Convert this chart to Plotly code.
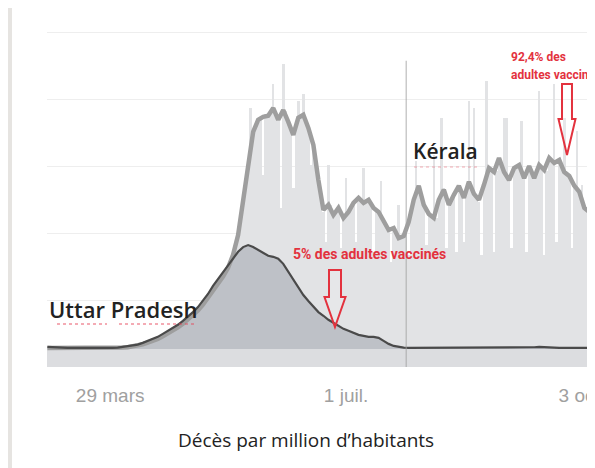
import pandas as pd
import plotly.graph_objects as go

# Décès quotidiens par million d'habitants, Kérala (barres), du 4 mars au 6 oct. 2021
KERALA_START = "2021-03-04"
KERALA_DAILY = [
    0.03, 0.03, 0.03, 0.03, 0.03, 0.02, 0.02, 0.02, 0.02, 0.02, 0.02, 0.01, 0.01, 0.01,
    0.01, 0.01, 0.01, 0.01, 0.01, 0.01, 0.01, 0.01, 0.01, 0.01, 0.01, 0.02, 0.02, 0.02,
    0.03, 0.03, 0.04, 0.04, 0.05, 0.06, 0.07, 0.08, 0.10, 0.12, 0.14, 0.16, 0.19, 0.21,
    0.24, 0.27, 0.30, 0.34, 0.38, 0.42, 0.46, 0.50, 0.55, 0.60, 0.64, 0.70, 0.75, 0.81,
    0.87, 0.93, 1.00, 1.07, 1.15, 1.23, 1.32, 1.42, 1.52, 1.63, 1.75, 1.85, 1.96, 2.06,
    2.1, 2.3, 2.4, 2.6, 2.8, 3.1, 3.4, 3.9, 4.5, 5.0, 5.7, 7.2, 6.5, 6.6,
    6.8, 6.9, 5.2, 7.0, 7.0, 7.1, 7.9, 7.0, 6.8, 4.2, 8.5, 7.1, 6.8, 6.6,
    4.8, 6.6, 7.4, 6.9, 7.6, 6.9, 6.6, 5.5, 6.1, 5.6, 5.0, 4.5, 4.1, 3.2,
    5.5, 4.3, 4.0, 4.1, 4.2, 3.0, 3.9, 5.1, 4.1, 4.2, 4.4, 3.2, 4.5, 4.4,
    5.4, 4.4, 4.5, 4.3, 2.9, 4.2, 4.1, 5.0, 3.8, 3.6, 3.5, 2.6, 3.6, 3.4,
    4.3, 3.3, 3.4, 3.6, 2.8, 4.1, 4.5, 5.6, 4.9, 4.6, 4.3, 3.1, 4.0, 3.9,
    5.8, 3.9, 4.5, 6.9, 4.8, 3.0, 4.3, 4.5, 4.6, 2.9, 4.9, 4.7, 3.2, 4.8,
    7.4, 4.8, 7.2, 4.5, 4.4, 2.8, 4.9, 8.0, 5.4, 5.3, 2.9, 5.3, 5.7, 5.4,
    6.9, 6.9, 5.0, 3.0, 5.4, 5.5, 5.5, 6.8, 5.1, 2.9, 5.5, 5.3, 5.1, 5.3,
    7.7, 5.4, 2.8, 5.3, 5.7, 5.6, 7.9, 3.2, 5.6, 5.4, 6.9, 5.2, 5.2, 3.0,
    4.9, 6.5, 4.7, 4.9, 4.2, 4.1, 4.0,
]

# Moyennes sur 7 jours, lues tous les 2 jours à partir du 4 mars 2021
AVG_START = "2021-03-04"
KERALA_AVG = [
    0.03, 0.03, 0.03, 0.02, 0.02, 0.02, 0.01, 0.01, 0.01, 0.01,
    0.01, 0.01, 0.01, 0.02, 0.03, 0.04, 0.05, 0.07, 0.10, 0.14,
    0.19, 0.24, 0.30, 0.38, 0.46, 0.55, 0.64, 0.75, 0.87, 1.00,
    1.15, 1.32, 1.52, 1.75, 1.96, 2.16, 2.42, 2.81, 3.40, 4.45,
    5.64, 6.48, 6.84, 6.93, 6.96, 7.19, 6.84, 7.13, 6.78, 6.39,
    6.90, 6.99, 6.60, 6.09, 5.04, 4.15, 4.30, 4.00, 4.21, 3.91,
    4.09, 4.36, 4.51, 4.36, 4.45, 4.21, 4.09, 3.79, 3.55, 3.61,
    3.31, 3.37, 3.79, 4.45, 4.87, 4.30, 4.03, 3.91, 4.45, 4.75,
    4.30, 4.60, 4.87, 4.51, 4.99, 4.63, 4.45, 4.90, 5.40, 5.28,
    5.70, 5.28, 5.04, 5.40, 5.49, 5.10, 5.46, 5.10, 5.49, 5.34,
    5.70, 5.55, 5.64, 5.28, 5.16, 4.87, 4.69, 4.21, 4.09,
]
UP_AVG = [
    0.06, 0.06, 0.06, 0.04, 0.03, 0.03, 0.02, 0.01, 0.01, 0.01,
    0.01, 0.01, 0.02, 0.03, 0.04, 0.06, 0.07, 0.10, 0.13, 0.18,
    0.24, 0.30, 0.36, 0.45, 0.54, 0.63, 0.72, 0.84, 0.96, 1.10,
    1.25, 1.43, 1.64, 1.88, 2.09, 2.30, 2.48, 2.69, 2.90, 3.04,
    3.10, 3.04, 2.96, 2.87, 2.78, 2.75, 2.69, 2.54, 2.30, 2.06,
    1.82, 1.61, 1.43, 1.25, 1.10, 0.99, 0.87, 0.78, 0.69, 0.60,
    0.54, 0.48, 0.42, 0.39, 0.36, 0.36, 0.33, 0.24, 0.15, 0.09,
    0.06, 0.04, 0.03, 0.03, 0.03, 0.03, 0.03, 0.03, 0.03, 0.03,
    0.03, 0.03, 0.03, 0.03, 0.03, 0.03, 0.03, 0.03, 0.03, 0.03,
    0.03, 0.03, 0.03, 0.03, 0.03, 0.03, 0.04, 0.05, 0.06, 0.06,
    0.05, 0.04, 0.03, 0.03, 0.03, 0.03, 0.03, 0.03, 0.03,
]

TICK_DATES = ["2021-03-29", "2021-07-01", "2021-10-03"]
TICK_TEXT = ["29 mars", "1 juil.", "3 oct."]
MARKER_DATE = "2021-07-25"

# la page ajoute une marge de 8 px autour de la figure
W, H = 587, 460
L, R, T, B = 39, 0, 12, 101
RED = "#e3323e"


def px(x, y):
    # pixel de la fenêtre -> coordonnées "paper" (zone de tracé : x 47-595, y 20-367)
    return (x - 47) / 548, (367 - y) / 347


def arrow_path(cx, top, head_top, tip, shaft_w, head_w):
    pts = [
        (cx - shaft_w / 2, top), (cx + shaft_w / 2, top),
        (cx + shaft_w / 2, head_top), (cx + head_w / 2, head_top),
        (cx, tip), (cx - head_w / 2, head_top),
        (cx - shaft_w / 2, head_top),
    ]
    p = [px(*q) for q in pts]
    return "M " + " L ".join(f"{a:.4f},{b:.4f}" for a, b in p) + " Z"


daily_x = pd.date_range(KERALA_START, periods=len(KERALA_DAILY), freq="D")
avg_x = pd.date_range(AVG_START, periods=len(KERALA_AVG), freq="2D")

fig = go.Figure()
fig.add_trace(go.Bar(x=daily_x, y=KERALA_DAILY, marker=dict(color="#e2e3e5", line_width=0),
                     hoverinfo="skip"))
fig.add_trace(go.Scatter(x=avg_x, y=UP_AVG, mode="lines", fill="tozeroy",
                         fillcolor="#bec1c7", line=dict(width=0), hoverinfo="skip"))
fig.add_trace(go.Scatter(x=avg_x, y=KERALA_AVG, mode="lines",
                         line=dict(color="#9e9e9e", width=4.5), hoverinfo="skip"))
fig.add_trace(go.Scatter(x=avg_x, y=UP_AVG, mode="lines",
                         line=dict(color="#4a4a4a", width=2.2), hoverinfo="skip"))

dotted_red = dict(color="rgba(230,70,90,0.6)", width=1.5, dash="dot")
shapes = [
    # bande grise sous la ligne de base
    dict(type="rect", xref="paper", yref="y", x0=0, x1=px(590, 0)[0], y0=-0.54, y1=0,
         fillcolor="#dcdde0", line_width=0, layer="below"),
    # repère vertical
    dict(type="line", xref="x", yref="y", x0=MARKER_DATE, x1=MARKER_DATE, y0=-0.54, y1=8.6,
         line=dict(color="rgba(160,160,160,0.7)", width=1.2)),
    # flèches rouges
    dict(type="path", xref="paper", yref="paper", path=arrow_path(335, 270, 297, 327, 12, 21),
         line=dict(color=RED, width=2), fillcolor="rgba(255,255,255,0.15)"),
    dict(type="path", xref="paper", yref="paper", path=arrow_path(567, 84, 119, 155, 10, 17),
         line=dict(color=RED, width=2), fillcolor="rgba(255,255,255,0.15)"),
    # soulignements du correcteur
    dict(type="line", xref="paper", yref="paper", x0=px(57, 0)[0], x1=px(107, 0)[0],
         y0=px(0, 324)[1], y1=px(0, 324)[1], line=dotted_red),
    dict(type="line", xref="paper", yref="paper", x0=px(119, 0)[0], x1=px(197, 0)[0],
         y0=px(0, 324)[1], y1=px(0, 324)[1], line=dotted_red),
    dict(type="line", xref="paper", yref="paper", x0=px(414, 0)[0], x1=px(477, 0)[0],
         y0=px(0, 167)[1], y1=px(0, 167)[1],
         line=dict(color="rgba(230,70,90,0.45)", width=1.2, dash="dot")),
    # bord gris de la capture
    dict(type="rect", xref="paper", yref="paper", x0=px(8, 0)[0], x1=px(12, 0)[0],
         y0=px(0, 470)[1], y1=px(0, 8)[1], fillcolor="#e6e4e1", line_width=0),
]


def label(text, x, y, size, color, family, weight="normal", anchor="left"):
    xp, yp = px(x, y)
    return dict(text=text, x=xp, y=yp, xref="paper", yref="paper", showarrow=False,
                xanchor=anchor, yanchor="middle",
                font=dict(size=size, color=color, family=family, weight=weight))


annotations = [
    label("Uttar Pradesh", 47, 309, 22, "#222222", "Open Sans", 600),
    label("Kérala", 411, 151, 21, "#222222", "Open Sans", 600),
    label("5% des adultes vaccinés", 291, 254, 14, RED, "Roboto", "bold"),
    label("92,4% des", 509, 57, 12, RED, "Roboto", "bold"),
    label("adultes vaccinés", 509, 75, 12, RED, "Roboto", "bold"),
    label("Décès par million d’habitants", 306, 440, 19, "#222222", "Open Sans", anchor="center"),
]

fig.update_layout(
    width=W, height=H,
    margin=dict(l=L, r=R, t=T, b=B, autoexpand=False),
    paper_bgcolor="white", plot_bgcolor="white",
    showlegend=False, bargap=0,
    shapes=shapes, annotations=annotations,
)
fig.update_xaxes(
    range=["2021-03-03 20:00", "2021-10-08 06:00"],
    tickvals=TICK_DATES, ticktext=TICK_TEXT,
    tickfont=dict(family="Liberation Sans", size=19, color="#a0a0a0"),
    ticks="outside", ticklen=11, tickcolor="rgba(0,0,0,0)",
    ticklabeloverflow="allow",
    showgrid=False, showline=False, zeroline=False, automargin=False,
)
fig.update_yaxes(
    range=[-0.54, 9.82], tick0=-0.54, dtick=2,
    showticklabels=False, gridcolor="#eeeeee", gridwidth=1,
    zeroline=False, showline=False, automargin=False,
)

fig.write_html("out.html")
